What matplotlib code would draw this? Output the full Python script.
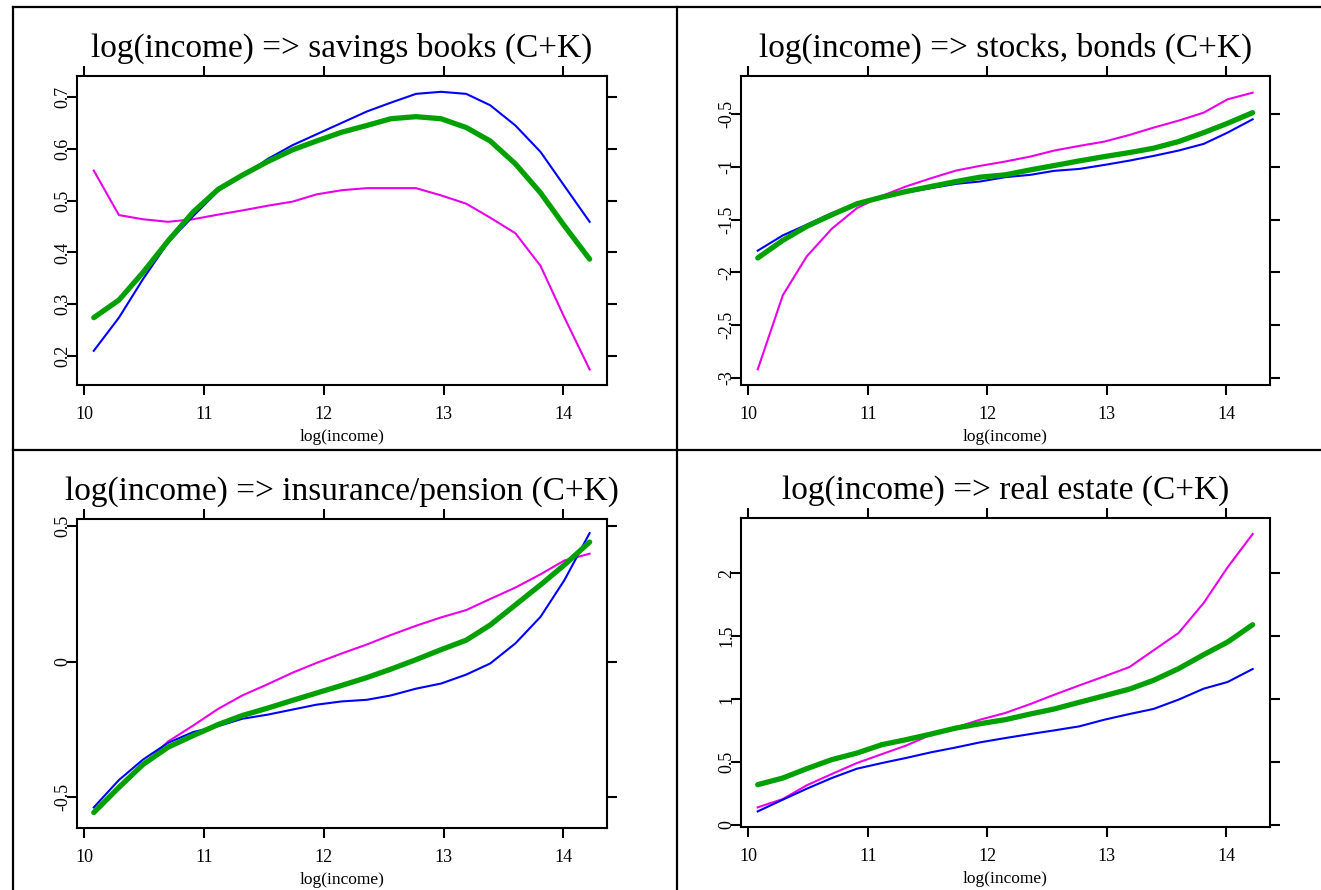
import matplotlib
matplotlib.use("Agg")
import matplotlib.pyplot as plt
from matplotlib.lines import Line2D

plt.rcParams["font.family"] = ["Liberation Serif", "DejaVu Serif"]
plt.rcParams["axes.unicode_minus"] = False

# grid of log(income) values shared by all curves
income = [10.08, 10.29, 10.49, 10.70, 10.91, 11.12, 11.32, 11.53, 11.74, 11.94, 12.15,
          12.36, 12.56, 12.77, 12.98, 13.19, 13.39, 13.60, 13.81, 14.01, 14.22]

titles = ["log(income) => savings books (C+K)",
          "log(income) => stocks, bonds (C+K)",
          "log(income) => insurance/pension (C+K)",
          "log(income) => real estate (C+K)"]

# savings books
sav_blue = [0.210, 0.274, 0.348, 0.419, 0.470, 0.519, 0.547, 0.580, 0.607, 0.628, 0.650,
            0.672, 0.689, 0.706, 0.710, 0.706, 0.684, 0.645, 0.594, 0.528, 0.459]
sav_green = [0.274, 0.308, 0.361, 0.422, 0.478, 0.522, 0.549, 0.575, 0.598, 0.615, 0.632,
             0.645, 0.658, 0.662, 0.658, 0.641, 0.615, 0.571, 0.515, 0.451, 0.387]
sav_magenta = [0.558, 0.472, 0.464, 0.459, 0.464, 0.473, 0.481, 0.490, 0.498, 0.512, 0.520,
               0.524, 0.524, 0.524, 0.510, 0.494, 0.467, 0.437, 0.374, 0.274, 0.174]

# stocks, bonds
stk_blue = [-1.794, -1.649, -1.548, -1.438, -1.344, -1.281, -1.243, -1.202, -1.161, -1.139, -1.098,
            -1.076, -1.038, -1.020, -0.982, -0.941, -0.897, -0.846, -0.783, -0.676, -0.550]
stk_green = [-1.863, -1.696, -1.564, -1.454, -1.350, -1.287, -1.234, -1.186, -1.139, -1.098, -1.076,
             -1.029, -0.988, -0.944, -0.903, -0.865, -0.824, -0.761, -0.676, -0.588, -0.487]
stk_magenta = [-2.918, -2.216, -1.848, -1.586, -1.391, -1.275, -1.186, -1.108, -1.035, -0.991, -0.950,
               -0.903, -0.846, -0.802, -0.761, -0.698, -0.629, -0.563, -0.487, -0.361, -0.298]

# insurance/pension
ins_blue = [-0.538, -0.437, -0.362, -0.300, -0.260, -0.238, -0.211, -0.196, -0.177, -0.159, -0.147,
            -0.141, -0.125, -0.100, -0.081, -0.048, -0.007, 0.067, 0.165, 0.301, 0.474]
ins_green = [-0.557, -0.464, -0.380, -0.316, -0.273, -0.232, -0.199, -0.172, -0.143, -0.116, -0.088,
             -0.059, -0.028, 0.007, 0.044, 0.079, 0.135, 0.209, 0.283, 0.357, 0.441]
ins_magenta = [-0.551, -0.470, -0.384, -0.295, -0.236, -0.174, -0.125, -0.084, -0.041, -0.005, 0.030,
               0.063, 0.098, 0.132, 0.163, 0.190, 0.231, 0.273, 0.322, 0.373, 0.398]

# real estate
rea_blue = [0.108, 0.201, 0.288, 0.373, 0.447, 0.492, 0.532, 0.577, 0.616, 0.656, 0.690,
            0.722, 0.751, 0.783, 0.836, 0.881, 0.921, 0.995, 1.082, 1.135, 1.238]
rea_green = [0.320, 0.373, 0.447, 0.519, 0.571, 0.638, 0.677, 0.722, 0.770, 0.804, 0.836,
             0.881, 0.921, 0.974, 1.026, 1.079, 1.148, 1.241, 1.352, 1.452, 1.590]
rea_magenta = [0.140, 0.206, 0.315, 0.405, 0.492, 0.563, 0.630, 0.717, 0.775, 0.836, 0.889,
               0.960, 1.034, 1.108, 1.180, 1.254, 1.386, 1.524, 1.762, 2.045, 2.310]

x_ticks = [10, 11, 12, 13, 14]
y_ticks = [[0.2, 0.3, 0.4, 0.5, 0.6, 0.7],
           [-3, -2.5, -2, -1.5, -1, -0.5],
           [-0.5, 0, 0.5],
           [0, 0.5, 1, 1.5, 2]]
y_limits = [(0.144, 0.7405), (-3.066, -0.140), (-0.614, 0.526), (-0.016, 2.437)]

series = [(sav_blue, sav_green, sav_magenta),
          (stk_blue, stk_green, stk_magenta),
          (ins_blue, ins_green, ins_magenta),
          (rea_blue, rea_green, rea_magenta)]

W, H = 1321, 890
fig = plt.figure(figsize=(W / 100, H / 100), dpi=100)

# axes boxes in pixels: left, top, right, bottom
boxes = [(77, 76, 607, 385), (741, 76, 1270, 385),
         (77, 519, 607, 828), (741, 518, 1270, 827)]

for i, (l, t, r, b) in enumerate(boxes):
    ax = fig.add_axes([l / W, 1 - b / H, (r - l) / W, (b - t) / H])
    blue, green, magenta = series[i]
    ax.plot(income, magenta, color="#e800e8", lw=1.5)
    ax.plot(income, blue, color="#0000ff", lw=1.5)
    ax.plot(income, green, color="#00a000", lw=3.8, solid_capstyle="round")
    ax.set_xlim(9.94, 14.365)
    ax.set_ylim(*y_limits[i])
    ax.set_xticks(x_ticks)
    ax.set_xticklabels([str(v) for v in x_ticks])
    ax.set_yticks(y_ticks[i])
    ax.set_yticklabels(["%g" % v for v in y_ticks[i]], rotation=90, va="center")
    ax.tick_params(direction="out", length=7, width=1.5, top=True, right=True,
                   labeltop=False, labelright=False, labelsize=13)
    ax.tick_params(axis="x", pad=8)
    ax.tick_params(axis="y", pad=-3)
    for s in ax.spines.values():
        s.set_linewidth(1.5)
    h = b - t
    ax.text(0.5, 1 + 19 / h, titles[i], transform=ax.transAxes, ha="center",
            va="baseline", fontsize=24)
    ax.text(0.5, -52 / h, "log(income)", transform=ax.transAxes, ha="center",
            va="center", fontsize=12.5)

# panel frame lines
frame = [((12.7, 12.7), (6.7, H)), ((12.7, W), (6.7, 6.7)),
         ((677, 677), (6.7, H)), ((12.7, W), (450, 450))]
for xs, ys in frame:
    fig.add_artist(Line2D([x / W for x in xs], [1 - y / H for y in ys],
                          transform=fig.transFigure, color="black", lw=1.6))

fig.savefig("out.png", dpi=100)
